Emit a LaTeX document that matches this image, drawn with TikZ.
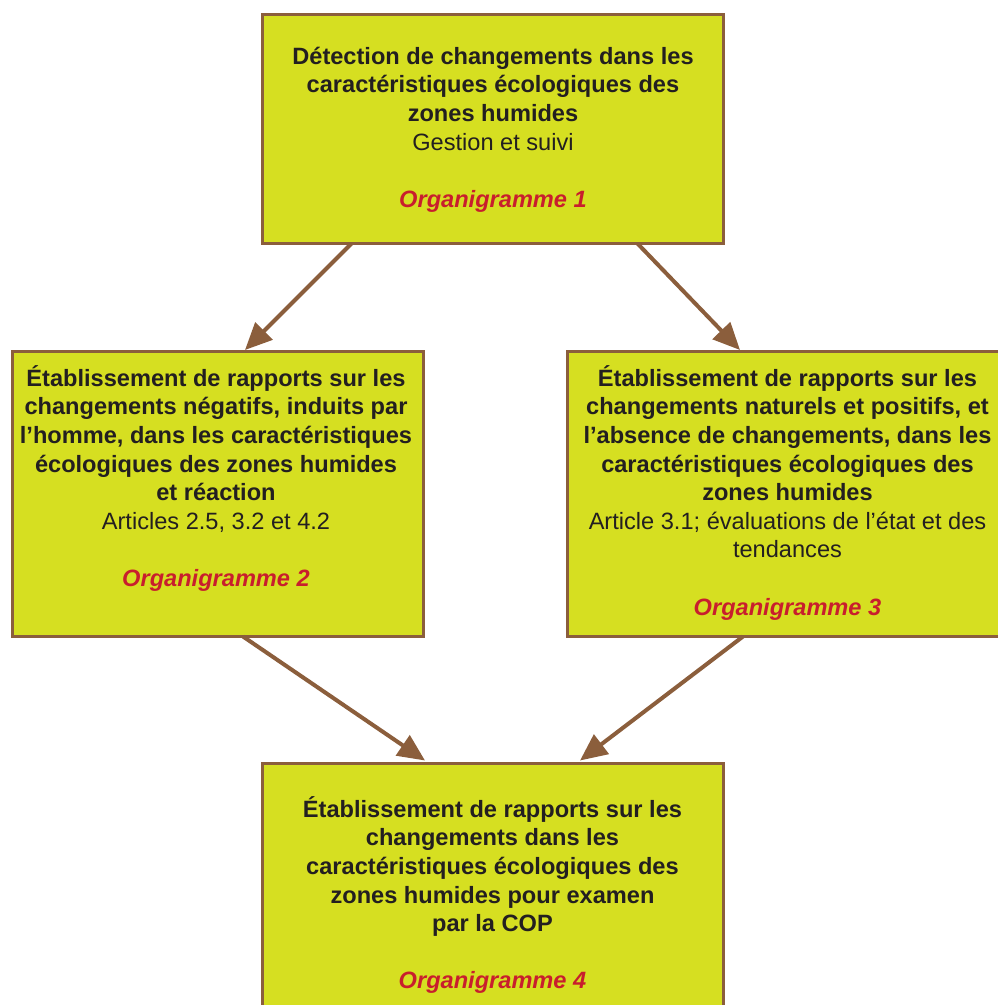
\documentclass[tikz,border=0pt]{standalone}
\usepackage{fontspec}
\setmainfont{Liberation Sans}
\usetikzlibrary{arrows.meta,calc}
\definecolor{boxfill}{RGB}{214,223,33}
\definecolor{boxline}{RGB}{139,94,60}
\definecolor{txt}{RGB}{35,31,32}
\definecolor{orgred}{RGB}{200,30,45}
\newcommand\boxfont{\fontsize{23.6}{28.6}\selectfont}
\newcommand\fstrut{\rule{0pt}{21pt}}
\newcommand\org[1]{\textcolor{orgred}{\bfseries\itshape #1}}
\begin{document}
\begin{tikzpicture}[x=1pt,y=-1pt,
  flowbox/.style={draw=boxline,fill=boxfill,line width=3pt,rectangle,inner sep=0pt,outer sep=0pt},
  boxtext/.style={anchor=north,align=center,inner sep=0pt,text=txt,font=\boxfont},
  flowarrow/.style={draw=boxline,line width=4pt,-{Triangle[length=27pt,width=24pt]}}]
\clip (0,0) rectangle (998,1005);
\useasboundingbox (0,0) rectangle (998,1005);
% boxes
\node[flowbox,minimum width=461pt,minimum height=229pt] (top) at (493,129) {};
\node[flowbox,minimum width=411pt,minimum height=285pt] (left) at (218,494) {};
\node[flowbox,minimum width=439pt,minimum height=285pt] (right) at (787,494) {};
\node[flowbox,minimum width=461pt,minimum height=260pt] (bottom) at (493,893.5) {};
% texts
\node[boxtext] (ttop) at (493,43) {\fstrut\bfseries D\'etection de changements dans les\\
\bfseries caract\'eristiques \'ecologiques des\\
\bfseries zones humides\\
Gestion et suivi\\[28.6pt]
\org{Organigramme 1}};
\node[boxtext] (tleft) at (216,365) {\fstrut\bfseries \'Etablissement de rapports sur les\\
\bfseries changements n\'egatifs, induits par\\
\bfseries l’homme, dans les caract\'eristiques\\
\bfseries \'ecologiques des zones humides\\
\bfseries et r\'eaction\\
Articles 2.5, 3.2 et 4.2\\[28.6pt]
\org{Organigramme 2}};
\node[boxtext] (tright) at (787.5,365) {\fstrut\bfseries \'Etablissement de rapports sur les\\
\bfseries changements naturels et positifs, et\\
\bfseries l’absence de changements, dans les\\
\bfseries caract\'eristiques \'ecologiques des\\
\bfseries zones humides\\
Article 3.1; \'evaluations de l’\'etat et des\\
tendances\\[28.6pt]
\org{Organigramme 3}};
\node[boxtext] (tbottom) at (492.5,796) {\fstrut\bfseries \'Etablissement de rapports sur les\\
\bfseries changements dans les\\
\bfseries caract\'eristiques \'ecologiques des\\
\bfseries zones humides pour examen\\
\bfseries par la COP\\[28.6pt]
\org{Organigramme 4}};
% connectors
\coordinate (a1s) at ($(top.south west)+(89,0)$);
\coordinate (a1e) at ($(left.north west)+(232.5,-1.5)$);
\coordinate (a2s) at ($(top.south west)+(375,0)$);
\coordinate (a2e) at ($(right.north west)+(172.5,-1.5)$);
\coordinate (a3s) at ($(left.south west)+(230.5,0)$);
\coordinate (a3e) at ($(bottom.north west)+(162.5,-3)$);
\coordinate (a4s) at ($(right.south west)+(175.5,0)$);
\coordinate (a4e) at ($(bottom.north west)+(317.5,-3)$);
\draw[flowarrow] (a1s) -- (a1e);
\draw[flowarrow] (a2s) -- (a2e);
\draw[flowarrow] (a3s) -- (a3e);
\draw[flowarrow] (a4s) -- (a4e);
\end{tikzpicture}
\end{document}
